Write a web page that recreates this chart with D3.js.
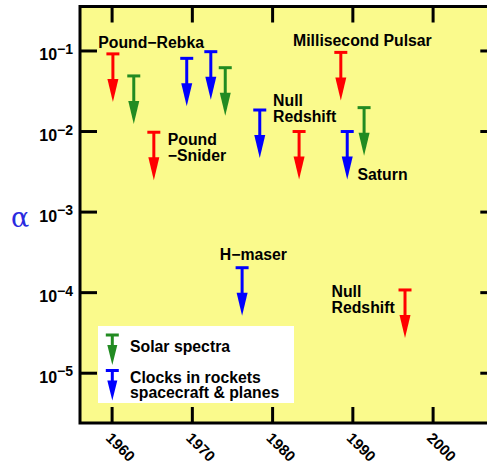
<!DOCTYPE html>
<html><head><meta charset="utf-8">
<script src="https://cdn.jsdelivr.net/npm/d3@7"></script>
<style>body{margin:0;background:#fff}svg{display:block}</style>
</head><body>
<script>
// ---- data ----
const years  = [1960.1, 1962.7, 1965.2, 1969.3, 1972.3, 1974.1, 1978.4, 1988.5, 1983.3, 1989.3, 1991.4, 1976.2, 1996.5];
const limits = [0.092, 0.049, 0.0098, 0.081, 0.098, 0.062, 0.0185, 0.096, 0.01, 0.01, 0.0198, 2.04e-4, 1.08e-4];
const kinds  = ["redshift","solar","redshift","clock","clock","solar","clock","redshift","redshift","clock","solar","clock","redshift"];
const xTicks = [1960, 1970, 1980, 1990, 2000];
const yTickExps = [-1, -2, -3, -4, -5];
const labelTexts  = [["Pound\u2212Rebka"], ["Pound", "\u2212Snider"], ["Millisecond Pulsar"], ["Null", "Redshift"], ["Saturn"], ["H\u2212maser"], ["Null", "Redshift"]];
const labelYears  = [1958.27, 1966.94, 1982.55, 1980.06, 1990.58, 1973.42, 1987.34];
const labelLogs   = [-0.963, -2.161, -0.934, -1.683, -2.601, -3.594, -4.05];
const legendKinds = ["solar", "clock"];
const legendTexts = [["Solar spectra"], ["Clocks in rockets", "spacecraft & planes"]];

const colors = {redshift: "#ff0000", solar: "#228b22", clock: "#0000ff"};

const W = 487, H = 472;
const svg = d3.select("body").append("svg").attr("width", W).attr("height", H);

const x = d3.scaleLinear().domain([1956, 2008]).range([80, 497.3]);
const y = d3.scaleLog().domain([Math.pow(10, -5.618), Math.pow(10, -0.448)]).range([423, 6.5]);
const yl = v => y(Math.pow(10, v));

const FONT = "'Liberation Sans', Arial, Helvetica, sans-serif";

// plot background
svg.append("rect").attr("x", x.range()[0]).attr("y", y.range()[1])
  .attr("width", x.range()[1] - x.range()[0]).attr("height", y.range()[0] - y.range()[1])
  .attr("fill", "#fafa8c");

// ticks
const tk = svg.append("g").attr("stroke", "#000").attr("stroke-width", 3);
xTicks.forEach(t => {
  tk.append("line").attr("x1", x(t)).attr("x2", x(t)).attr("y1", y.range()[0]).attr("y2", y.range()[0] - 16);
  tk.append("line").attr("x1", x(t)).attr("x2", x(t)).attr("y1", y.range()[1]).attr("y2", y.range()[1] + 16);
});
yTickExps.forEach(e => {
  tk.append("line").attr("x1", x.range()[0]).attr("x2", x.range()[0] + 17).attr("y1", yl(e)).attr("y2", yl(e));
  tk.append("line").attr("x1", x.range()[1]).attr("x2", x.range()[1] - 17).attr("y1", yl(e)).attr("y2", yl(e));
});

// frame
svg.append("rect").attr("x", x.range()[0]).attr("y", y.range()[1])
  .attr("width", x.range()[1] - x.range()[0]).attr("height", y.range()[0] - y.range()[1])
  .attr("fill", "none").attr("stroke", "#000").attr("stroke-width", 3);

// y tick labels
yTickExps.forEach(e => {
  const t = svg.append("text").attr("x", 73).attr("y", yl(e) + 9.5)
    .attr("text-anchor", "end").attr("font-family", FONT).attr("font-weight", "bold").attr("fill", "#000");
  t.append("tspan").attr("font-size", 16).text("10");
  t.append("tspan").attr("font-size", 14).attr("dy", -6.5).text("\u2212" + Math.abs(e));
});

// x tick labels
xTicks.forEach(t => {
  svg.append("text").attr("transform", `translate(${x(t) - 7},439) rotate(45)`)
    .attr("font-family", FONT).attr("font-weight", "bold").attr("font-size", 15).attr("fill", "#000")
    .text(t);
});

// axis title
svg.append("text").attr("x", 11).attr("y", 227).attr("font-family", "'DejaVu Serif', serif")
  .attr("font-size", 27).attr("fill", "#2a2ae0").text("\u03b1");

// arrows
function arrow(g, cx, cy, len, headLen, headW, color) {
  g.append("line").attr("x1", cx - 6.5).attr("x2", cx + 6.5).attr("y1", cy).attr("y2", cy)
    .attr("stroke", color).attr("stroke-width", 3);
  g.append("line").attr("x1", cx).attr("x2", cx).attr("y1", cy).attr("y2", cy + len - headLen + 1)
    .attr("stroke", color).attr("stroke-width", 3);
  g.append("path").attr("d", `M${cx - headW / 2},${cy + len - headLen}L${cx + headW / 2},${cy + len - headLen}L${cx},${cy + len}Z`)
    .attr("fill", color);
}
const ag = svg.append("g");
years.forEach((yr, i) => arrow(ag, x(yr), y(limits[i]), 48, 23, 11, colors[kinds[i]]));

// annotations
labelTexts.forEach((lines, i) => {
  const t = svg.append("text").attr("font-family", FONT).attr("font-weight", "bold")
    .attr("font-size", 15.8).attr("fill", "#000");
  lines.forEach((s, j) => {
    t.append("tspan").attr("x", x(labelYears[i])).attr("y", yl(labelLogs[i]) + j * 16.2).text(s);
  });
});

// legend
const lg = svg.append("g");
lg.append("rect").attr("x", 98).attr("y", 326).attr("width", 196).attr("height", 77).attr("fill", "#fff");
const legCapY = [335, 370.5];
const legTextY = [351.5, 382.5];
legendKinds.forEach((k, i) => {
  arrow(lg, 112.3, legCapY[i], 30, 20, 10, colors[k]);
  legendTexts[i].forEach((s, j) => {
    lg.append("text").attr("x", 130).attr("y", legTextY[i] + j * 15.5)
      .attr("font-family", FONT).attr("font-weight", "bold").attr("font-size", 15.8).attr("fill", "#000").text(s);
  });
});
</script>
</body></html>
